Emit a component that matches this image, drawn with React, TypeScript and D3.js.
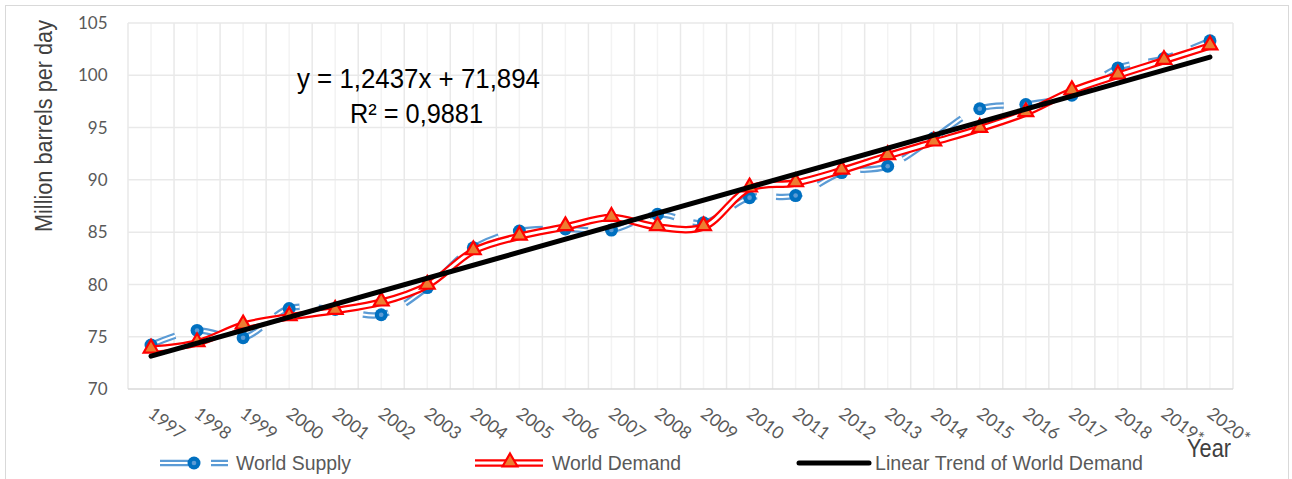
import * as d3 from "d3";

// Chart data
const years = [
  "1997", "1998", "1999", "2000", "2001", "2002", "2003", "2004", "2005", "2006", "2007", "2008",
  "2009", "2010", "2011", "2012", "2013", "2014", "2015", "2016", "2017", "2018", "2019*", "2020*",
];
const worldSupply = [
  74.2, 75.6, 74.9, 77.7, 77.6, 77.1, 79.7, 83.5, 85.1, 85.3, 85.2, 86.7,
  85.9, 88.3, 88.5, 90.7, 91.3, 94.0, 96.8, 97.2, 98.1, 100.7, 101.6, 103.3,
];
const worldDemand = [
  73.8, 74.4, 76.1, 76.9, 77.5, 78.3, 79.9, 83.2, 84.6, 85.5, 86.4, 85.5,
  85.5, 89.2, 89.7, 90.9, 92.3, 93.6, 94.9, 96.4, 98.5, 100.0, 101.4, 102.8,
];
const yTicks = [70, 75, 80, 85, 90, 95, 100, 105];
const trendSlope = 1.2437;
const trendIntercept = 71.894;
const equationLines = ["y = 1,2437x + 71,894", "R\u00b2 = 0,9881"];

const W = 1292;
const H = 479;
const PLOT = { left: 128, right: 1233, top: 23, bottom: 389 };

const SUPPLY_LINE = "#5b9bd5";
const SUPPLY_MARK = "#0070c0";
const DEMAND_LINE = "#ff0000";
const DEMAND_FILL = "#ed7d31";
const TICK_FONT = "Lato, 'Open Sans', sans-serif";
const TEXT_FONT = "'Liberation Sans', Arial, sans-serif";

export default function App() {
  const x = d3.scaleBand<string>().domain(years).range([PLOT.left, PLOT.right]);
  const y = d3.scaleLinear().domain([70, 105]).range([PLOT.bottom, PLOT.top]);
  const cx = (yr: string) => (x(yr) ?? 0) + x.bandwidth() / 2;

  const smooth = d3
    .line<number>()
    .x((_, i) => cx(years[i]))
    .y((d) => y(d))
    .curve(d3.curveCatmullRom.alpha(0.5));

  const supplyPath = smooth(worldSupply) ?? "";
  const demandPath = smooth(worldDemand) ?? "";

  const trendPts: [number, number][] = [1, years.length].map((n) => [
    cx(years[n - 1]),
    y(trendSlope * n + trendIntercept),
  ]);
  const trendPath = d3.line()(trendPts) ?? "";

  const tri = d3.symbol().type(d3.symbolTriangle).size(95)() ?? "";

  // grid positions: band edges + band centres
  const edges = years.map((yr) => x(yr) ?? 0).concat([PLOT.right]);
  const centres = years.map(cx);

  const legendY = 463;

  return (
    <svg
      width={W}
      height={H}
      style={{ position: "absolute", left: 0, top: 0, background: "#fff" }}
    >
      <rect x={5.5} y={5.5} width={1283} height={490} fill="#fff" stroke="#d9d9d9" />

      {/* grid */}
      <g>
        {centres.map((v, i) => (
          <line key={"c" + i} x1={v} x2={v} y1={PLOT.top} y2={PLOT.bottom} stroke="#f3f3f3" strokeWidth={1.5} />
        ))}
        {edges.map((v, i) => (
          <line key={"e" + i} x1={v} x2={v} y1={PLOT.top} y2={PLOT.bottom} stroke="#e9e9e9" strokeWidth={1.5} />
        ))}
        {yTicks.map((t) => (
          <line key={t} x1={PLOT.left} x2={PLOT.right} y1={y(t)} y2={y(t)} stroke={t === 70 ? "#d9d9d9" : "#e9e9e9"} strokeWidth={1.5} />
        ))}
      </g>

      {/* y tick labels */}
      <g fontFamily={TICK_FONT} fontSize={17} fill="#595959" textAnchor="end">
        {yTicks.map((t) => (
          <text key={t} x={107.5} y={y(t)} dy="0.36em">
            {t}
          </text>
        ))}
      </g>

      {/* x tick labels */}
      <g fontFamily={TICK_FONT} fontSize={17.5} fill="#595959">
        {years.map((yr) => (
          <text key={yr} transform={`translate(${cx(yr) - 4},416) rotate(37)`}>
            {yr}
          </text>
        ))}
      </g>

      <text
        transform="translate(52,126) rotate(-90)"
        textAnchor="middle"
        fontFamily={TEXT_FONT}
        fontSize={23}
        fill="#404040"
        textLength={212}
        lengthAdjust="spacingAndGlyphs"
      >
        Million barrels per day
      </text>
      <text
        x={1187}
        y={457}
        fontFamily={TEXT_FONT}
        fontSize={25}
        fill="#404040"
        textLength={44}
        lengthAdjust="spacingAndGlyphs"
      >
        Year
      </text>

      {/* World Supply: dashed double line */}
      <path d={supplyPath} fill="none" stroke={SUPPLY_LINE} strokeWidth={6.5} strokeDasharray="26 19" />
      <path d={supplyPath} fill="none" stroke="#fff" strokeWidth={2} strokeDasharray="26 19" />
      {worldSupply.map((v, i) => (
        <g key={i} transform={`translate(${cx(years[i])},${y(v)})`}>
          <circle r={6.5} fill={SUPPLY_MARK} />
          <circle r={2.3} fill={SUPPLY_LINE} />
        </g>
      ))}

      {/* World Demand: double line */}
      <path d={demandPath} fill="none" stroke={DEMAND_LINE} strokeWidth={7.5} />
      <path d={demandPath} fill="none" stroke="#fff" strokeWidth={3} />
      {worldDemand.map((v, i) => (
        <path
          key={i}
          d={tri}
          transform={`translate(${cx(years[i])},${y(v) - 1})`}
          fill={DEMAND_FILL}
          stroke={DEMAND_LINE}
          strokeWidth={2.2}
        />
      ))}

      {/* Linear trend */}
      <path d={trendPath} fill="none" stroke="#000" strokeWidth={5} strokeLinecap="round" />

      {/* equation */}
      <g fontFamily={TEXT_FONT} fontSize={27.5} fill="#000" textAnchor="middle">
        <text x={418.5} y={88} textLength={243} lengthAdjust="spacingAndGlyphs">{equationLines[0]}</text>
        <text x={416.5} y={123} textLength={133} lengthAdjust="spacingAndGlyphs">{equationLines[1]}</text>
      </g>

      {/* legend */}
      <g fontFamily={TEXT_FONT} fontSize={20} fill="#595959">
        <line x1={160} x2={190} y1={legendY} y2={legendY} stroke={SUPPLY_LINE} strokeWidth={6.5} />
        <line x1={160} x2={190} y1={legendY} y2={legendY} stroke="#fff" strokeWidth={2} />
        <line x1={211} x2={228} y1={legendY} y2={legendY} stroke={SUPPLY_LINE} strokeWidth={6.5} />
        <line x1={211} x2={228} y1={legendY} y2={legendY} stroke="#fff" strokeWidth={2} />
        <circle cx={194} cy={legendY} r={6.5} fill={SUPPLY_MARK} />
        <circle cx={194} cy={legendY} r={2.3} fill={SUPPLY_LINE} />
        <text x={236} y={legendY + 7} textLength={115} lengthAdjust="spacingAndGlyphs">World Supply</text>

        <line x1={475} x2={543} y1={legendY} y2={legendY} stroke={DEMAND_LINE} strokeWidth={7.5} />
        <line x1={475} x2={543} y1={legendY} y2={legendY} stroke="#fff" strokeWidth={3} />
        <path d={tri} transform={`translate(510,${legendY - 1})`} fill={DEMAND_FILL} stroke={DEMAND_LINE} strokeWidth={2.2} />
        <text x={552} y={legendY + 7} textLength={129} lengthAdjust="spacingAndGlyphs">World Demand</text>

        <line x1={799} x2={869} y1={legendY} y2={legendY} stroke="#000" strokeWidth={5} strokeLinecap="round" />
        <text x={875} y={legendY + 7} textLength={268} lengthAdjust="spacingAndGlyphs">Linear Trend of World Demand</text>
      </g>
    </svg>
  );
}
